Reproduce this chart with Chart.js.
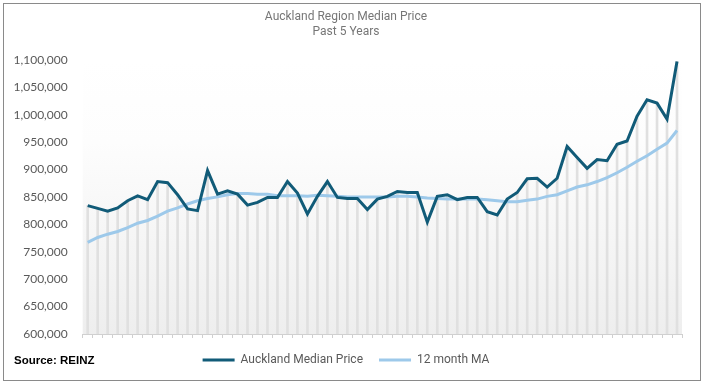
<!DOCTYPE html>
<html><head><meta charset="utf-8">
<script src="https://cdn.jsdelivr.net/npm/chart.js@4"></script>
<style>
html,body{margin:0;padding:0;background:#fff;}
#wrap{position:relative;width:704px;height:384px;overflow:hidden;}
#frame{position:absolute;left:3px;top:3px;width:698px;height:378px;border:1px solid #8a8a8a;box-sizing:border-box;pointer-events:none;}
#src{position:absolute;left:14px;top:354px;font:bold 11.5px "Liberation Sans",Arial,sans-serif;color:#000;}
canvas{position:absolute;left:0;top:0;}
</style></head>
<body>
<div id="wrap">
<canvas id="c" width="704" height="384"></canvas>
<div id="frame"></div>
<div id="src">Source: REINZ</div>
</div>
<script>
const titleLines = ['Auckland Region Median Price', 'Past 5 Years'];
const seriesNames = ['Auckland Median Price', '12 month MA'];
const labels = [];
const monthNames = ['Jan','Feb','Mar','Apr','May','Jun','Jul','Aug','Sep','Oct','Nov','Dec'];
const years = ['16','17','18','19','20'];
years.forEach(y => monthNames.forEach(m => labels.push(m + '-' + y)));

const medianPrice = [
  834000, 829000, 824000, 830000, 843000, 852000, 845000, 878000, 876000, 854000,
  828000, 825000, 898000, 855000, 861000, 855000, 835000, 840000, 849000, 849000,
  878000, 857000, 819000, 851000, 878000, 849000, 847000, 847000, 827000, 846000,
  851000, 860000, 858000, 858000, 804000, 851000, 854000, 845000, 849000, 849000,
  823000, 817000, 846000, 858000, 883000, 884000, 868000, 884000, 942000, 922000,
  902000, 918000, 916000, 946000, 952000, 997000, 1027000, 1021000, 992000, 1097000
];
const movingAverage = [
  767000, 776000, 782000, 787000, 794000, 802000, 807000, 815000, 824000, 830000,
  837000, 843000, 847000, 850000, 854000, 856000, 856000, 855000, 855000, 852000,
  852000, 852000, 851000, 853000, 852000, 851000, 850000, 850000, 850000, 850000,
  850000, 851000, 851000, 850000, 848000, 847000, 846000, 846000, 846000, 846000,
  845000, 843000, 841000, 841000, 844000, 846000, 851000, 854000, 861000, 868000,
  872000, 878000, 885000, 894000, 904000, 915000, 925000, 937000, 948000, 971000
];
const yMin = 600000, yMax = 1100000, yStep = 50000;

const bgPlugin = {
  id: 'bg',
  beforeDraw(chart) {
    const {ctx, chartArea: a} = chart;
    const g = ctx.createLinearGradient(0, a.top, 0, a.bottom);
    g.addColorStop(0, '#ffffff');
    g.addColorStop(0.3, '#fdfdfd');
    g.addColorStop(1, '#eeeeee');
    ctx.save();
    ctx.fillStyle = g;
    ctx.fillRect(a.left, a.top, a.right - a.left, a.bottom - a.top);
    ctx.restore();
  }
};

new Chart(document.getElementById('c'), {
  data: {
    labels: labels,
    datasets: [
      {type: 'line', label: seriesNames[0], data: medianPrice, borderColor: '#115b78', backgroundColor: '#115b78',
       borderWidth: 3, pointRadius: 0, tension: 0, order: 1},
      {type: 'line', label: seriesNames[1], data: movingAverage, borderColor: '#9dc9ea', backgroundColor: '#9dc9ea',
       borderWidth: 3, pointRadius: 0, tension: 0, order: 2},
      {type: 'bar', label: 'drop', data: medianPrice, backgroundColor: '#e0e0e0', barThickness: 2, order: 3}
    ]
  },
  options: {
    responsive: false,
    animation: false,
    layout: {padding: {left: 10, right: 22, top: 4, bottom: 8}},
    plugins: {
      title: {display: true, text: titleLines, color: '#767676', font: {family: 'Roboto', size: 12, weight: 'normal'},
              padding: {top: 6, bottom: 21}},
      legend: {display: true, position: 'bottom',
        labels: {usePointStyle: true, pointStyle: 'line', pointStyleWidth: 32, color: '#595959',
                 font: {family: 'Roboto', size: 12}, padding: 16,
                 filter: item => item.text !== 'drop'}},
      tooltip: {enabled: false}
    },
    scales: {
      x: {type: 'category', offset: true,
          ticks: {display: false},
          grid: {display: true, drawOnChartArea: false, drawTicks: true, tickLength: 4, color: '#d0d0d0'},
          border: {color: '#d0d0d0'}},
      y: {min: yMin, max: yMax,
          ticks: {stepSize: yStep, color: '#595959', font: {family: 'Lato', size: 12}, padding: 7,
                  callback: v => v.toLocaleString('en-US')},
          grid: {display: false},
          border: {display: false},
          afterFit: s => { s.width = 72.7; }}
    }
  },
  plugins: [bgPlugin]
});
</script>
</body></html>
